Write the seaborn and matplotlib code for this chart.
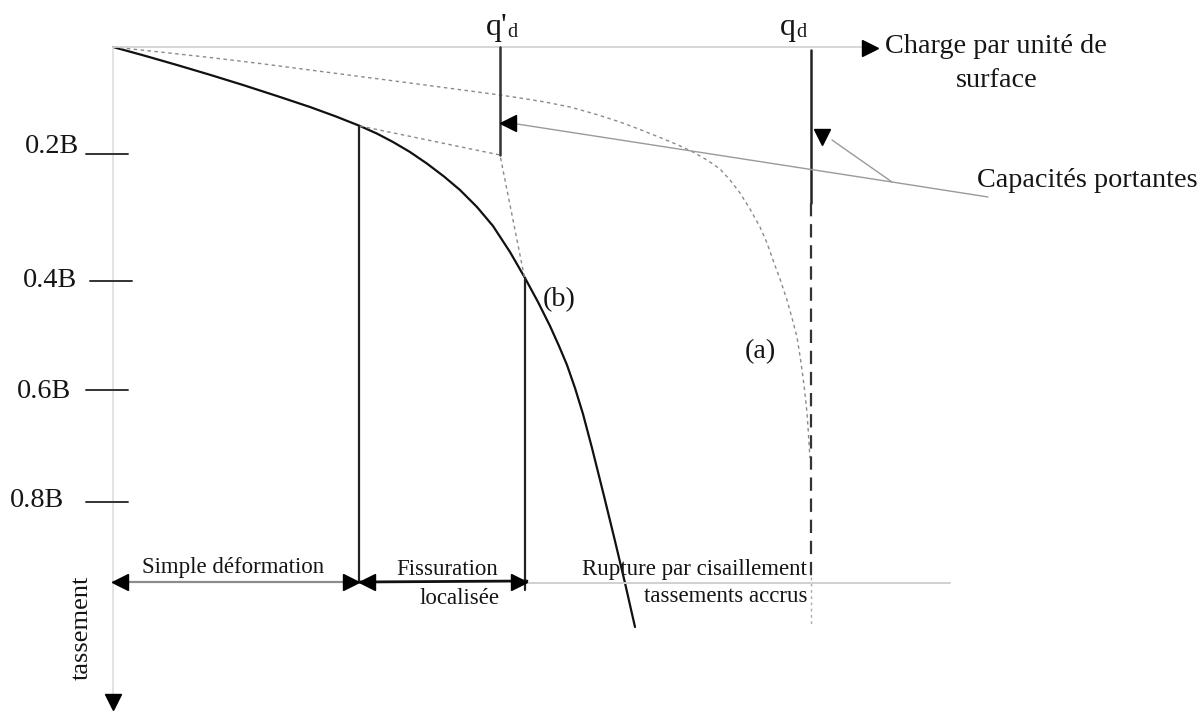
import numpy as np
import pandas as pd
import matplotlib
matplotlib.use("Agg")
import matplotlib.pyplot as plt
import seaborn as sns

# diagram coordinates (x = charge, y = tassement, both in drawing units)
curve_b_x = [113, 145, 177, 210, 243, 277, 310, 336, 360, 377, 393, 410, 427, 444,
             460, 477, 493, 510, 525, 538, 550, 559, 567, 575, 583, 592, 604, 615,
             625, 635]
curve_b_y = [47, 55.8, 65, 74.8, 85, 96, 107, 116.5, 126, 133.6, 142, 152, 163.6, 176.5,
             190, 207, 226, 252, 278, 302, 326, 346, 365, 388, 414, 448, 496, 541,
             583, 627]

curve_a_x = [113, 160, 210, 260, 310, 360, 410, 455, 500, 520, 545, 570, 595, 620,
             640, 660, 677, 693, 707, 720, 730, 740, 750, 760, 767, 773, 780, 787,
             792, 797, 800, 803, 805, 807, 808, 809, 810]
curve_a_y = [47, 52, 57.5, 63.5, 70, 76.5, 83, 89, 95, 98, 102, 107, 114, 122,
             129.5, 137.5, 144.5, 152, 160, 169, 180, 193, 209, 227, 243, 260, 279, 300,
             318, 337, 356, 377, 394, 413, 427, 443, 458]

tangent_x = [360, 500, 525]
tangent_y = [126, 155, 280]

q_prime_d = 500
q_d = 811
q_prime_d_depth = 155
q_d_solid_end = 203
q_d_dash_end = 577
q_d_dot_end = 625

tick_labels = ["0.2B", "0.4B", "0.6B", "0.8B"]
tick_y = [154, 281, 390, 502]
tick_x0 = [86, 90, 86, 86]
tick_label_x = [25, 23, 17, 10]
tick_label_base = [153, 287, 398, 507]

zone_bounds = [113, 359, 527, 950]
zone_y = 582
zone_line_top = [126, 279]

sns.set_style("white")
plt.rcParams["font.family"] = ["Liberation Serif", "DejaVu Serif"]

fig = plt.figure(figsize=(12.03, 7.11), dpi=100)
ax = fig.add_axes([0, 0, 1, 1])

txt = "#151515"
gray = "#9a9a9a"

# curves
df_b = pd.DataFrame({"x": curve_b_x, "y": curve_b_y})
df_a = pd.DataFrame({"x": curve_a_x, "y": curve_a_y})
sns.lineplot(data=df_b, x="x", y="y", sort=False, estimator=None, ax=ax,
             color="#111111", lw=1.6)
sns.lineplot(data=df_a, x="x", y="y", sort=False, estimator=None, ax=ax,
             color="#8a8a8a", lw=1.0, linestyle=(0, (2.5, 2.5)))
ax.plot(tangent_x, tangent_y, color="#8a8a8a", lw=1.0, linestyle=(0, (2.5, 2.5)))

ax.set_xlim(0, 1203)
ax.set_ylim(711, 0)
ax.axis("off")

# axes of the diagram
ax.plot([113, 862], [47, 47], color="#cfcfcf", lw=1.2)
ax.plot([113, 113], [47, 698], color="#dedede", lw=1.2)
ax.plot([870], [47.5], marker=">", ms=11, color="black", ls="none")
ax.plot([113], [702], marker="v", ms=11, color="black", ls="none")

for lab, y, x0, lx, lb in zip(tick_labels, tick_y, tick_x0, tick_label_x, tick_label_base):
    ax.plot([x0, x0 + 42], [y, y], color="#333333", lw=1.4)
    ax.text(lx, lb, lab, fontsize=20.3, color=txt, ha="left", va="baseline")

# capacity lines
ax.plot([q_prime_d, q_prime_d], [47, q_prime_d_depth], color="#333333", lw=1.8)
ax.plot([q_d, q_d], [50, q_d_solid_end], color="#222222", lw=1.8)
ax.plot([q_d, q_d], [q_d_solid_end, q_d_dash_end], color="#333333", lw=1.6,
        linestyle=(0, (6, 3.5)))
ax.plot([q_d, q_d], [q_d_dash_end, q_d_dot_end], color="#aaaaaa", lw=1.0,
        linestyle=(0, (2, 2.5)))

# leader lines to "Capacités portantes"
ax.plot([517, 892, 988], [124, 182, 197], color=gray, lw=1.0)
ax.plot([832, 892], [140, 182], color=gray, lw=1.0)
ax.plot([508], [122.5], marker="<", ms=11, color="black", ls="none")
ax.plot([822], [137], marker="v", ms=11, color="black", ls="none")

# zones along the bottom
ax.plot([zone_bounds[0], zone_bounds[1]], [zone_y, zone_y], color="#8c8c8c", lw=1.6)
ax.plot([zone_bounds[1], zone_bounds[2]], [zone_y, zone_y - 1], color="#111111", lw=2.0)
ax.plot([zone_bounds[2], zone_bounds[3]], [zone_y + 1, zone_y + 1], color="#d0d0d0", lw=1.4)
ax.plot([359, 359], [zone_line_top[0], zone_y], color="#222222", lw=1.6)
ax.plot([525, 525], [zone_line_top[1], zone_y + 8], color="#222222", lw=1.6)
ax.plot([351, 519], [zone_y, zone_y], ls="none", color="black", ms=11, marker=">")
ax.plot([120, 367], [zone_y, zone_y], ls="none", color="black", ms=11, marker="<")

# texts
big = 20.3
small = 16.5
ax.text(885, 53, "Charge par unité de", fontsize=big, color=txt, ha="left", va="baseline")
ax.text(997, 87, "surface", fontsize=big, color=txt, ha="center", va="baseline")
ax.text(977, 187, "Capacités portantes", fontsize=big, color=txt, ha="left", va="baseline")
ax.text(486, 35, "q'", fontsize=23, color=txt, ha="left", va="baseline")
ax.text(507, 37, "d", fontsize=14.5, color=txt, ha="left", va="baseline")
ax.text(780, 35, "q", fontsize=23, color=txt, ha="left", va="baseline")
ax.text(796, 37, "d", fontsize=14.5, color=txt, ha="left", va="baseline")
ax.text(543, 306, "(b)", fontsize=big, color=txt, ha="left", va="baseline")
ax.text(745, 358, "(a)", fontsize=big, color=txt, ha="left", va="baseline")
ax.text(142, 573, "Simple déformation", fontsize=small, color=txt, ha="left", va="baseline")
ax.text(447, 575, "Fissuration", fontsize=small, color=txt, ha="center", va="baseline")
ax.text(460, 604, "localisée", fontsize=small, color=txt, ha="center", va="baseline")
ax.text(807, 575, "Rupture par cisaillement", fontsize=small, color=txt, ha="right", va="baseline")
ax.text(807, 602, "tassements accrus", fontsize=small, color=txt, ha="right", va="baseline")
ax.text(82, 628, "tassement", fontsize=19, color=txt, ha="center", va="center",
        rotation=90)

fig.savefig("out.png", dpi=100)
